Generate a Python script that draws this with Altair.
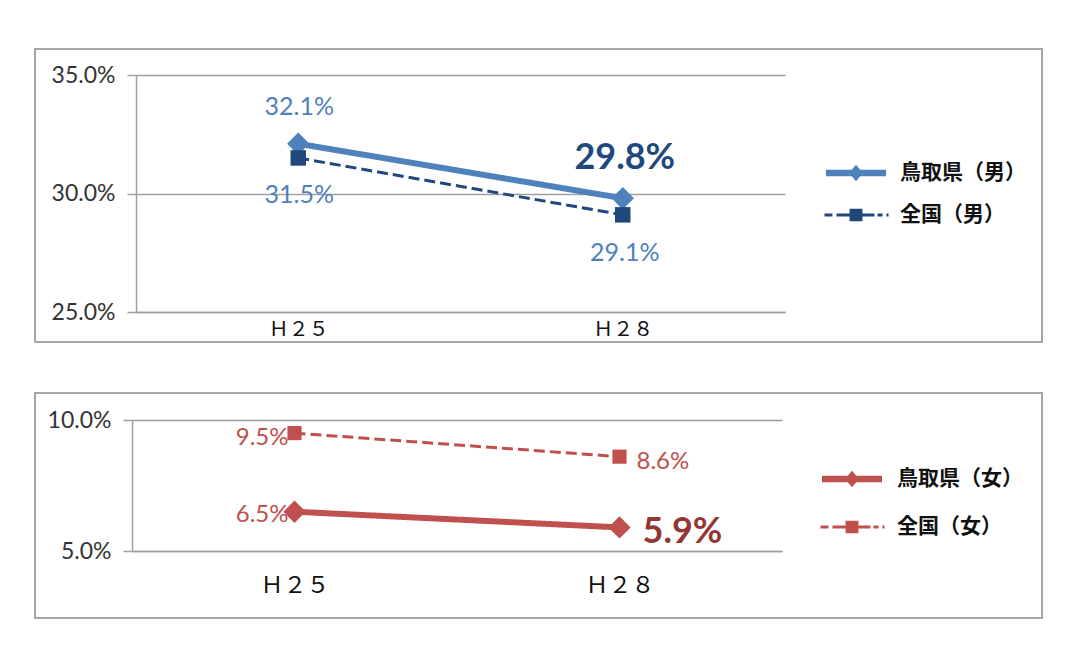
import altair as alt
import pandas as pd

categories = ["Ｈ２５", "Ｈ２８"]
male_series = ["鳥取県（男）", "全国（男）"]
female_series = ["鳥取県（女）", "全国（女）"]
male_tottori = [0.321, 0.298]
male_national = [0.315, 0.291]
female_tottori = [0.065, 0.059]
female_national = [0.095, 0.086]
male_ticks = [0.25, 0.30, 0.35]
female_ticks = [0.05, 0.10]


def frame(series_names, tottori, national):
    rows = []
    for s, vals in zip(series_names, [tottori, national]):
        for c, v in zip(categories, vals):
            rows.append({"cat": c, "series": s, "value": v})
    return pd.DataFrame(rows)


TOT_PATH = "M-2,-0.22L2,-0.22L2,0.22L-2,0.22Z M-0.47,0L0,-0.55L0.47,0L0,0.55Z"
NAT_PATH = ("M-2.1,-0.1L-1.57,-0.1L-1.57,0.1L-2.1,0.1Z "
            "M-1.3,-0.1L-0.43,-0.1L-0.43,0.1L-1.3,0.1Z "
            "M-0.43,-0.42L0.43,-0.42L0.43,0.42L-0.43,0.42Z "
            "M0.43,-0.1L1.23,-0.1L1.23,0.1L0.43,0.1Z "
            "M1.43,-0.1L1.77,-0.1L1.77,0.1L1.43,0.1Z "
            "M2.03,-0.1L2.17,-0.1L2.17,0.1L2.03,0.1Z")


def panel(df, series_names, line_colors, ticks, box_w, box_h, xr, yr,
          label_specs, legend_x, legend_y, row_pad, label_offset,
          xlab_size, xlab_pad, marker_sizes):
    base = alt.Chart(df)
    x = alt.X("cat:N", sort=categories,
              scale=alt.Scale(type="point", domain=categories, range=xr, padding=0.5),
              axis=alt.Axis(orient="bottom", offset=-(box_h - yr[0]), ticks=False, grid=False,
                            domainColor="#A0A0A0", domainWidth=1.5,
                            labelFont="Noto Sans CJK JP", labelFontSize=xlab_size,
                            labelColor="#111111", labelPadding=xlab_pad, labelAngle=0,
                            title=None))
    y = alt.Y("value:Q",
              scale=alt.Scale(domain=[ticks[0], ticks[-1]], range=yr, nice=False, zero=False),
              axis=alt.Axis(values=ticks, format=".1%", orient="left", offset=-xr[0],
                            tickSize=9, tickColor="#A0A0A0", tickWidth=1.5,
                            domainColor="#A0A0A0", domainWidth=1.5,
                            grid=True, gridColor="#A0A0A0", gridWidth=1.5,
                            labelFont="Lato", labelFontSize=23, labelColor="#333333",
                            labelPadding=12, title=None))
    color = alt.Color("series:N", scale=alt.Scale(domain=series_names, range=line_colors), legend=None)
    dash = alt.StrokeDash("series:N", scale=alt.Scale(domain=series_names, range=[[1, 0], [11, 5]]), legend=None)
    sw = alt.StrokeWidth("series:N", scale=alt.Scale(domain=series_names, range=[6, 3]), legend=None)

    lines = base.mark_line().encode(x=x, y=y, color=color, strokeDash=dash, strokeWidth=sw)
    markers = base.mark_point(filled=True, opacity=1).encode(
        x=x, y=y, color=color,
        shape=alt.Shape("series:N", scale=alt.Scale(domain=series_names, range=["diamond", "square"]), legend=None),
        size=alt.Size("series:N", scale=alt.Scale(domain=series_names, range=marker_sizes), legend=None),
    )
    leg = alt.Legend(orient="none", legendX=legend_x, legendY=legend_y, title=None,
                     labelFont="Noto Sans CJK JP", labelFontSize=21, labelFontWeight="bold",
                     labelColor="#111111", labelOffset=label_offset, rowPadding=row_pad,
                     symbolSize=900, symbolStrokeWidth=0, symbolOpacity=1, padding=0)
    legend_layer = base.transform_filter("false").mark_point(filled=True, opacity=1, strokeWidth=0).encode(
        x=x, y=y,
        color=alt.Color("series:N", scale=alt.Scale(domain=series_names, range=line_colors), legend=leg),
        shape=alt.Shape("series:N", scale=alt.Scale(domain=series_names, range=[TOT_PATH, NAT_PATH]), legend=leg),
        size=alt.value(900),
    )
    texts = []
    for si, ci, dx, dy, align, fs, fw, col in label_specs:
        s = series_names[si]
        c = categories[ci]
        texts.append(
            base.transform_filter(f"datum.series == '{s}' && datum.cat == '{c}'")
            .mark_text(dx=dx, dy=dy, align=align, baseline="middle", font="Lato",
                       fontSize=fs, fontWeight=fw, color=col)
            .encode(x=x, y=y, text=alt.Text("value:Q", format=".1%"))
        )
    return alt.layer(lines, markers, legend_layer, *texts).resolve_scale(
        shape="independent", color="independent").properties(width=box_w, height=box_h)


male_labels = [
    (0, 0, 1, -37, "center", 25, "normal", "#4F81BD"),
    (1, 0, 1, 37, "center", 25, "normal", "#4F81BD"),
    (0, 1, 2, -40, "center", 36, "bold", "#1F497D"),
    (1, 1, 2, 38, "center", 25, "normal", "#4F81BD"),
]
female_labels = [
    (1, 0, -6, 5, "right", 24, "normal", "#C0504D"),
    (0, 0, -6, 3, "right", 24, "normal", "#C0504D"),
    (1, 1, 17, 5, "left", 24, "normal", "#C0504D"),
    (0, 1, 23, 5, "left", 36, "bold", "#943634"),
]

p1 = panel(frame(male_series, male_tottori, male_national), male_series,
           ["#4F81BD", "#1F497D"], male_ticks, 1007, 293, [101, 750], [263, 26],
           male_labels, 806, 109, 17, 29, 20, 7, [500, 240])
p2 = panel(frame(female_series, female_tottori, female_national), female_series,
           ["#C0504D", "#C0504D"], female_ticks, 1007, 225, [97, 747], [158, 27],
           female_labels, 802, 71, 23, 30, 23, 23, [500, 200])

chart = alt.vconcat(p1, p2, spacing=49).resolve_scale(
    color="independent", fill="independent", shape="independent",
    strokeDash="independent", strokeWidth="independent", size="independent",
    x="independent", y="independent",
).properties(
    padding={"left": 26, "top": 40, "right": 0, "bottom": 0},
    background="white",
).configure_view(stroke="#A6A6A6", strokeWidth=2)

chart.save("out.html", embed_options={"renderer": "svg", "actions": False})
